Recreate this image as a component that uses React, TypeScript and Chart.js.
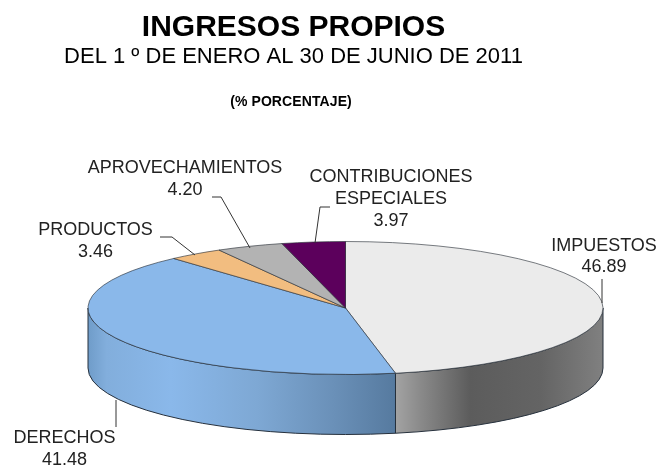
import React, { useEffect, useRef } from "react";
import { Chart, registerables } from "chart.js";

Chart.register(...registerables);

const categories = ["IMPUESTOS", "DERECHOS", "PRODUCTOS", "APROVECHAMIENTOS", "CONTRIBUCIONES ESPECIALES"];
const values = [46.89, 41.48, 3.46, 4.2, 3.97];
const valueLabels = ["46.89", "41.48", "3.46", "4.20", "3.97"];
const topColors = ["#ebebeb", "#8ab8ea", "#f2bd80", "#b3b3b3", "#5c005c"];

const titleText = "INGRESOS PROPIOS";
const subtitleText = "DEL 1 º DE ENERO AL 30 DE JUNIO DE 2011";
const unitText = "(% PORCENTAJE)";

const FONT = "'Liberation Sans', Arial, sans-serif";
const CX = 345.5;
const CY = 308;
const RX = 257.5;
const RY = 66.5;
const DEPTH = 60;

// Label lines and leader polylines (layout only; the values come from the arrays above)
const labelLayout: { lines: string[]; x: number; y: number; leader: number[][]; gap: number }[] = [
  { lines: [categories[0], valueLabels[0]], x: 604, y: 246, gap: 21, leader: [[602, 279], [602, 303]] },
  { lines: [categories[1], valueLabels[1]], x: 64.5, y: 438, gap: 22, leader: [[116, 400], [116, 427]] },
  { lines: [categories[2], valueLabels[2]], x: 95.5, y: 230, gap: 22, leader: [[160, 237], [172, 237], [195, 255]] },
  { lines: [categories[3], valueLabels[3]], x: 185, y: 168, gap: 22, leader: [[212, 197], [221, 197], [250, 248]] },
  { lines: ["CONTRIBUCIONES", "ESPECIALES", valueLabels[4]], x: 391, y: 177, gap: 22, leader: [[330, 207], [320, 207], [315, 243]] },
];

const sideStops: [number, string][][] = [
  [[0, "#a3a3a3"], [0.12, "#8a8a8a"], [0.36, "#5c5c5c"], [0.7, "#646464"], [1, "#808080"]],
  [[0, "#6f9cc9"], [0.06, "#82aedc"], [0.27, "#8ab8ea"], [0.55, "#7ea8d4"], [0.8, "#6a90b8"], [1, "#567a9f"]],
];

const pie3d = {
  id: "pie3d",
  beforeDatasetsDraw(chart: any) {
    const ctx: CanvasRenderingContext2D = chart.ctx;
    const arcs = chart.getDatasetMeta(0).data;
    arcs.forEach((arc: any, i: number) => {
      const a0 = Math.max(arc.startAngle, 0);
      const a1 = Math.min(arc.endAngle, Math.PI);
      if (a1 <= a0) return;
      const xStart = CX + RX * Math.cos(a0);
      const xEnd = CX + RX * Math.cos(a1);
      const g = ctx.createLinearGradient(Math.min(xStart, xEnd), 0, Math.max(xStart, xEnd), 0);
      const stops = i === 0 ? sideStops[0] : sideStops[1];
      stops.forEach(([p, c]) => g.addColorStop(p, c));
      ctx.save();
      ctx.beginPath();
      ctx.ellipse(CX, CY, RX, RY, 0, a0, a1);
      ctx.ellipse(CX, CY + DEPTH, RX, RY, 0, a1, a0, true);
      ctx.closePath();
      ctx.fillStyle = g;
      ctx.fill();
      ctx.strokeStyle = "#26303c";
      ctx.lineWidth = 1;
      ctx.stroke();
      ctx.restore();
    });
    const a = arcs[0];
    ctx.save();
    ctx.translate(CX, CY);
    ctx.scale(1, RY / RX);
    ctx.translate(-a.x, -a.y);
  },
  afterDatasetsDraw(chart: any) {
    const ctx: CanvasRenderingContext2D = chart.ctx;
    ctx.restore();
    ctx.save();
    ctx.textAlign = "center";
    ctx.textBaseline = "middle";
    ctx.fillStyle = "#000";
    ctx.font = `bold 14px ${FONT}`;
    (ctx as any).letterSpacing = "0.1px";
    ctx.fillText(unitText, 291, 102.5);
    (ctx as any).letterSpacing = "0px";
    ctx.font = `18px ${FONT}`;
    ctx.fillStyle = "#222";
    ctx.strokeStyle = "#333";
    ctx.lineWidth = 1;
    labelLayout.forEach((l) => {
      l.lines.forEach((t, k) => ctx.fillText(t, l.x, l.y + k * l.gap));
      ctx.beginPath();
      l.leader.forEach(([x, y], k) => (k ? ctx.lineTo(x, y) : ctx.moveTo(x, y)));
      ctx.stroke();
    });
    ctx.restore();
  },
};

export default function App() {
  const ref = useRef<HTMLCanvasElement>(null);
  useEffect(() => {
    const chart = new Chart(ref.current as HTMLCanvasElement, {
      type: "pie",
      data: {
        labels: categories,
        datasets: [
          {
            data: values,
            backgroundColor: topColors,
            borderColor: "#2a3038",
            borderWidth: 1,
            radius: RX,
            clip: false,
          } as any,
        ],
      },
      options: {
        responsive: false,
        animation: false,
        events: [],
        layout: { padding: { top: 11, right: 70, left: 0, bottom: 0 } },
        plugins: {
          legend: { display: false },
          tooltip: { enabled: false },
          title: {
            display: true,
            text: titleText,
            color: "#000",
            font: { family: FONT, size: 30, weight: "bold", lineHeight: 1.1 },
            padding: { top: 0, bottom: 0 },
          },
          subtitle: {
            display: true,
            text: subtitleText,
            color: "#000",
            font: { family: FONT, size: 22, weight: "normal", lineHeight: 1.2 },
            padding: { top: 0, bottom: 0 },
          },
        },
      },
      plugins: [pie3d],
    });
    return () => chart.destroy();
  }, []);
  return (
    <div style={{ position: "absolute", left: 0, top: 0, width: 657, height: 468, background: "#fff" }}>
      <canvas ref={ref} width={657} height={468} style={{ display: "block", filter: "blur(0.35px)" }} />
    </div>
  );
}
